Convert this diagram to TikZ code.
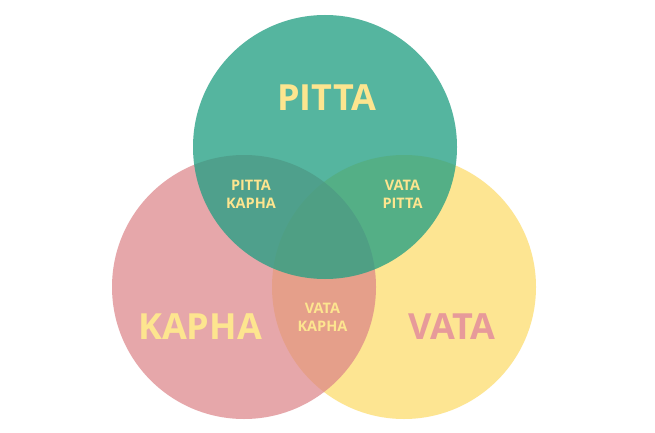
\documentclass[tikz,border=0pt]{standalone}
\usepackage{fontspec}
\setmainfont{Open Sans}
\definecolor{pittac}{RGB}{34,159,131}
\definecolor{kaphac}{RGB}{220,130,135}
\definecolor{vatac}{RGB}{253,229,146}
\definecolor{labely}{RGB}{253,229,143}
\definecolor{vatatext}{RGB}{231,154,154}
\begin{document}
\begin{tikzpicture}[x=1pt,y=-1pt,
  blob/.style={circle,minimum size=264pt,inner sep=0pt,draw=none},
  big/.style={font=\fontsize{36}{40}\selectfont\bfseries,inner sep=0pt},
  small/.style={font=\fontsize{14.5}{18}\selectfont\bfseries,align=center,inner sep=0pt,text=labely}]
\useasboundingbox (0,0) rectangle (655,433);
\fill[white] (0,0) rectangle (655,433);
\node[blob,fill=vatac] (vata) at (404,287) {};
\node[blob,fill=kaphac,fill opacity=0.7] (kapha) at (244,287) {};
\node[blob,fill=pittac,fill opacity=0.77] (pitta) at (325,147) {};
\node[big,text=labely] (tp) at (327,98) {PITTA};
\node[big,text=labely] (tk) at (200,327) {KAPHA};
\node[big,text=vatatext] (tv) at (452,327) {VATA};
\node[small] (pk) at (251,194) {PITTA\\KAPHA};
\node[small] (vp) at (402.5,194) {VATA\\PITTA};
\node[small] (vk) at (322.5,317.5) {VATA\\KAPHA};
\end{tikzpicture}
\end{document}
